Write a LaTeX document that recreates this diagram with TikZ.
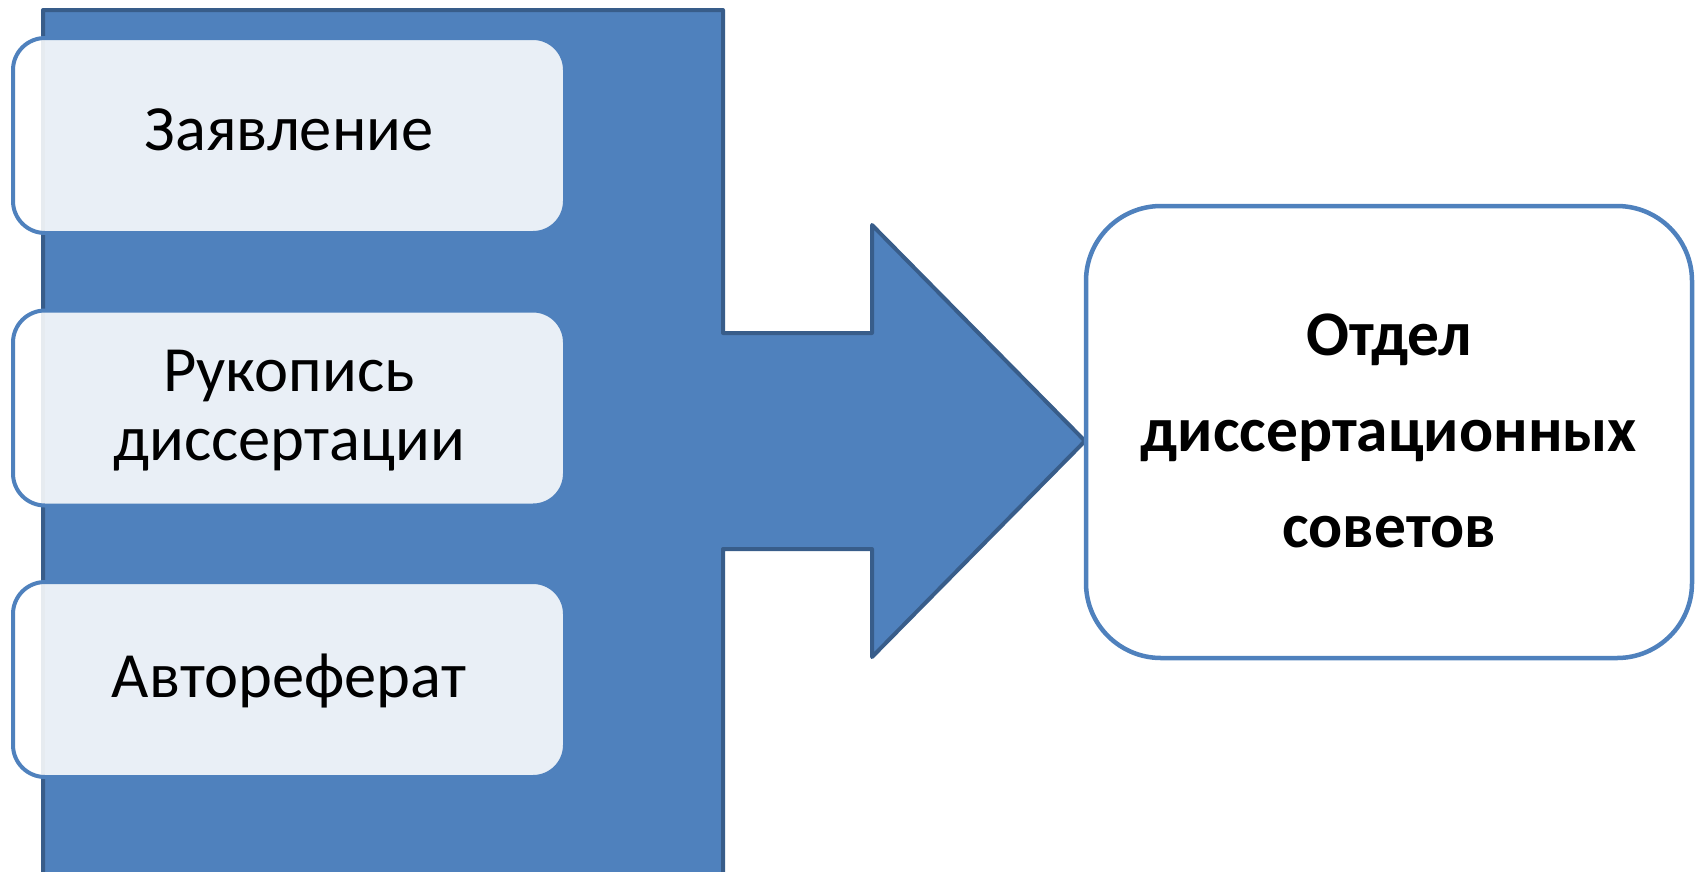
\documentclass[tikz,border=0pt]{standalone}
\usepackage{fontspec}
\setmainfont{Carlito}
\usetikzlibrary{calc}
\definecolor{accent}{HTML}{4F81BD}
\definecolor{accentdark}{HTML}{385D8A}
\begin{document}
\begin{tikzpicture}[x=1pt,y=-1pt,
  docbox/.style={draw=accent, line width=4pt, fill=white, fill opacity=0.88, draw opacity=1,
    rounded corners=32pt, minimum width=552pt, minimum height=195pt, inner sep=0pt},
  deptbox/.style={draw=accent, line width=4.5pt, fill=white, rounded corners=75pt,
    minimum width=606pt, minimum height=452pt, inner sep=0pt},
  ltext/.style={font=\fontsize{64.5}{69}\selectfont, align=center, inner sep=0pt, anchor=base},
  rtext/.style={font=\bfseries\fontsize{63.5}{96}\selectfont, align=center, inner sep=0pt, anchor=base},
  flow/.style={draw=accentdark, fill=accent, line width=4pt, line join=round}]
\useasboundingbox (0,0) rectangle (1697,871);
\begin{scope}
\clip (0,0) rectangle (1697,871);
% blue block with arrow
\coordinate (tl) at (43,10);
\coordinate (tip) at (1085,441);
\path[flow] (tl) -- (723,10) -- (723,333) -- (872,333) -- (872,225) -- (tip)
  -- (872,657) -- (872,549) -- (723,549) -- (723,890) -- (43,890) -- cycle;
\end{scope}
% document boxes
\node[docbox] (b1) at (289,135.5) {};
\node[docbox] (b2) at (289,408) {};
\node[docbox] (b3) at (289,679.5) {};
\node[ltext] at ($(b1.center)+(0,15)$) {Заявление};
\node[ltext] at ($(b2.center)+(0,52)$) {Рукопись\\диссертации};
\node[ltext] at ($(b3.center)+(0,18)$) {Автореферат};
% department box
\node[deptbox] (dept) at (1389,432) {};
\node[rtext] at ($(dept.center)+(0,115)$) {Отдел\\диссертационных\\советов};
\end{tikzpicture}
\end{document}
